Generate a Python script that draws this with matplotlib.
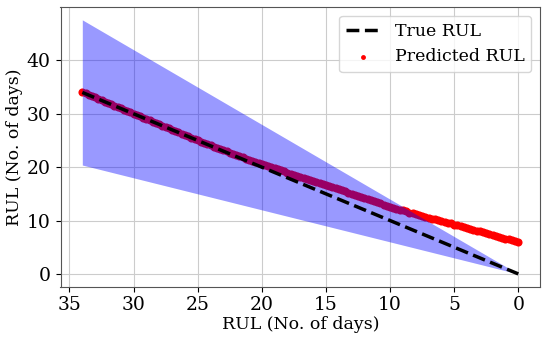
import numpy as np
import matplotlib
matplotlib.use('Agg')
import matplotlib.pyplot as plt

plt.rcParams['font.family'] = ['DejaVu Serif']

# RUL axis (days remaining), true line and uncertainty band end points
true_x = [34, 0]
true_rul = [34, 0]
band_upper = [47.6, 0]
band_lower = [20.4, 0]

# predicted RUL, every quarter day from 34 down to 0
pred_x = np.arange(34, -0.1, -0.25)
pred_rul = [34.1, 33.85, 33.6, 33.35,
            33.1, 32.8, 32.5, 32.25,
            32.0, 31.75, 31.5, 31.25,
            31.0, 30.75, 30.5, 30.25,
            30.0, 29.75, 29.5, 29.25,
            29.0, 28.75, 28.5, 28.25,
            28.0, 27.75, 27.5, 27.25,
            27.0, 26.75, 26.5, 26.25,
            26.0, 25.75, 25.5, 25.25,
            25.0, 24.8, 24.55, 24.3,
            24.1, 23.85, 23.6, 23.4,
            23.15, 22.95, 22.7, 22.5,
            22.3, 22.05, 21.85, 21.6,
            21.4, 21.2, 21.0, 20.8,
            20.6, 20.4, 20.2, 20.0,
            19.8, 19.6, 19.4, 19.2,
            19.0, 18.8, 18.6, 18.4,
            18.2, 18.0, 17.85, 17.65,
            17.5, 17.3, 17.1, 16.9,
            16.7, 16.5, 16.3, 16.1,
            15.9, 15.7, 15.5, 15.25,
            15.0, 14.8, 14.6, 14.4,
            14.2, 14.0, 13.8, 13.6,
            13.4, 13.2, 13.0, 12.8,
            12.6, 12.4, 12.25, 12.05,
            11.9, 11.7, 11.5, 11.35,
            11.2, 11.0, 10.85, 10.65,
            10.5, 10.35, 10.2, 10.05,
            9.9, 9.75, 9.6, 9.45,
            9.25, 9.1, 8.9, 8.75,
            8.6, 8.45, 8.3, 8.1,
            7.95, 7.8, 7.6, 7.45,
            7.3, 7.1, 6.95, 6.8,
            6.6, 6.45, 6.3, 6.15,
            6.0]

fig = plt.figure(figsize=(5.5, 3.4), dpi=100)
ax = fig.add_axes([0.11, 0.157, 0.872, 0.822])

ax.plot(true_x, true_rul, 'k--', lw=2.5, label='True RUL', zorder=4)
ax.scatter(pred_x, pred_rul, s=34, c='red', linewidths=0,
           label='Predicted RUL', zorder=2)
ax.fill_between(true_x, band_lower, band_upper, color='blue', alpha=0.4,
                lw=0, zorder=3)

ax.invert_xaxis()
ax.set_xticks([35, 30, 25, 20, 15, 10, 5, 0])
ax.set_yticks([0, 10, 20, 30, 40])
ax.tick_params(labelsize=13.5)
ax.grid(True, color='#cccccc', lw=0.8)
ax.set_axisbelow(True)
for s in ax.spines.values():
    s.set_color('#555555')
ax.set_xlabel('RUL (No. of days)', fontsize=12.5, labelpad=1)
ax.set_ylabel('RUL (No. of days)', fontsize=12.5, labelpad=3)
ax.legend(fontsize=12.5, scatterpoints=1, markerscale=0.6, loc='upper right')

fig.savefig('out.png', dpi=100)
